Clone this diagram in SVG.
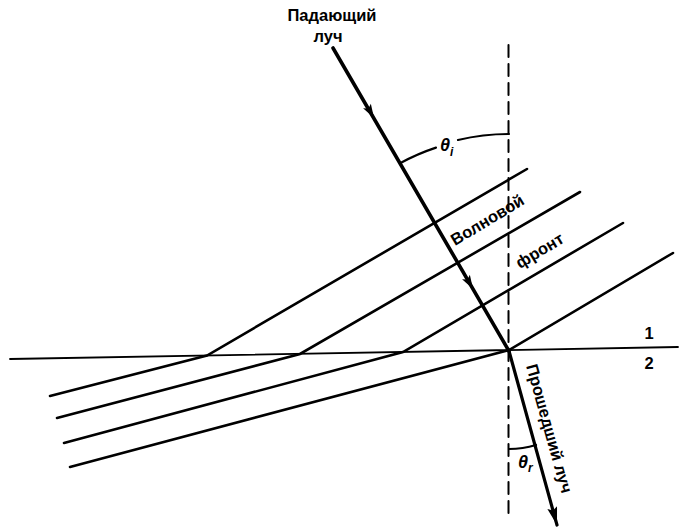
<svg xmlns="http://www.w3.org/2000/svg" width="684" height="531" viewBox="0 0 684 531">
<style>
.ln{stroke:#000;fill:none;stroke-linecap:round}
.wf{stroke-width:2.6}
.lbl{font-family:"Liberation Sans",Arial,sans-serif;font-weight:bold;font-size:16.5px;fill:#000}
.th{font-family:"Liberation Sans",Arial,sans-serif;font-weight:bold;font-style:italic;fill:#000}
</style>
<defs>
<polygon id="ah" points="0,0 -14,-4.5 -11,0 -14,4.5" fill="#000"/>
<marker id="end" markerWidth="20" markerHeight="12" refX="18" refY="5" orient="auto" markerUnits="userSpaceOnUse">
<polygon points="18,5 0,0 3,5 0,10" fill="#000"/>
</marker>
</defs>
<rect width="684" height="531" fill="#fff"/>
<g id="connectors">
<line id="interface" class="ln" x1="10" y1="359" x2="678" y2="347" stroke-width="1.8"/>
<line id="normal" class="ln" x1="508.5" y1="45" x2="508.5" y2="515" stroke-width="2" stroke-dasharray="12,7" stroke-linecap="butt"/>
<g id="wavefronts" class="ln wf">
<polyline points="50,396 207,355.5 527,169"/>
<polyline points="57,418 300,354 580,192"/>
<polyline points="64,443 403,352 623,223"/>
<polyline points="70,467 509,350 673,253"/>
</g>
<line id="incident" class="ln" x1="333" y1="48" x2="509" y2="351" stroke-width="3.6"/>
<use href="#ah" transform="translate(374,118) rotate(59.85)"/>
<use href="#ah" transform="translate(473,289) rotate(59.85)"/>
<line id="transmitted" class="ln" x1="509" y1="351" x2="557" y2="525" stroke-width="3.2" marker-end="url(#end)" stroke-linecap="butt"/>
<path id="arc-i1" class="ln" d="M400.5,163 A217,217 0 0 1 436,147.6" stroke-width="2.2"/>
<path id="arc-i2" class="ln" d="M458,140 A217,217 0 0 1 509,134" stroke-width="2.2"/>
<path id="arc-r" class="ln" d="M509,449 A98,98 0 0 0 536,445" stroke-width="2.2"/>
</g>
<g id="label-incident">
<text class="lbl" x="332" y="21" text-anchor="middle">Падающий</text>
<text class="lbl" x="328" y="42" text-anchor="middle">луч</text>
</g>
<g id="label-wavefront">
<text class="lbl" transform="translate(455,246) rotate(-31)">Волновой</text>
<text class="lbl" transform="translate(520,269) rotate(-31)">фронт</text>
</g>
<g id="label-transmitted">
<text class="lbl" transform="translate(526,366) rotate(74.4)">Прошедший луч</text>
</g>
<g id="theta-i">
<text class="th" x="440" y="151" font-size="18">θ<tspan font-size="12" dy="5">i</tspan></text>
</g>
<g id="theta-r">
<text class="th" x="518" y="468" font-size="18">θ<tspan font-size="12" dy="4">r</tspan></text>
</g>
<g id="media">
<text class="lbl" x="649" y="339" text-anchor="middle" font-size="15">1</text>
<text class="lbl" x="649" y="369" text-anchor="middle" font-size="15">2</text>
</g>
</svg>
